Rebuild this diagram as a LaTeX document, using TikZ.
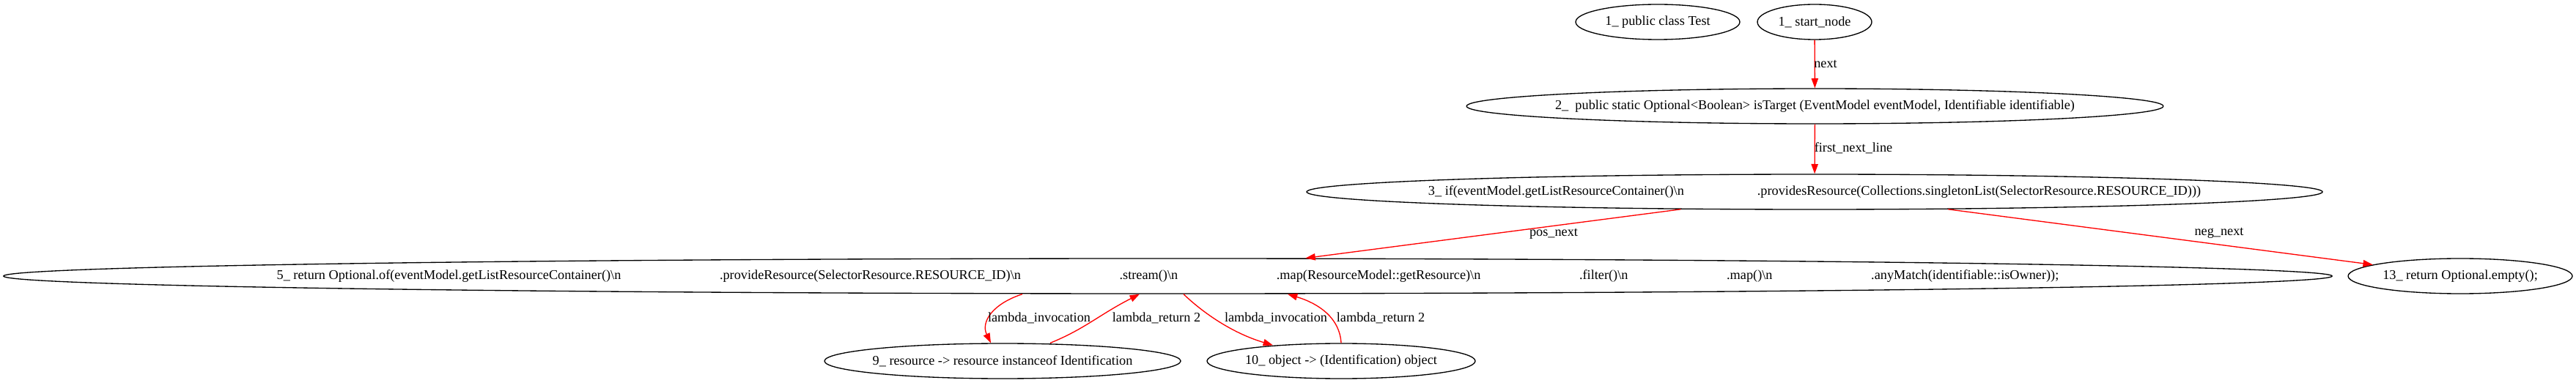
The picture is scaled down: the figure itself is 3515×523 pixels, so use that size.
\documentclass[tikz,border=0pt]{standalone}
\usepackage{fontspec}
\setmainfont{Liberation Serif}
\usepackage{xcolor}
\usepackage{tikz}
\usetikzlibrary{arrows.meta, shapes.geometric}
\definecolor{flowred}{RGB}{255,0,0}
\tikzset{
  stmt/.style={draw, ellipse, line width=1pt, minimum height=36pt, inner sep=0pt},
  flow/.style={draw=flowred, line width=1pt, -{Triangle[length=10pt, width=7pt]}},
}
\begin{document}
\begin{tikzpicture}[x=0.75pt, y=-0.75pt, font=\fontsize{13.7pt}{16pt}\selectfont]
\useasboundingbox (0,0) rectangle (3515,523);

% statements
\node (class_decl) [stmt, minimum width=168pt, label={center:{1\_ public class Test}}] at (2262,30) {};
\node (start_node) [stmt, minimum width=117pt, label={center:{1\_ start\_node}}] at (2476,30) {};
\node (method_decl) [stmt, minimum width=713pt, label={center:{2\_\ \ public static Optional<Boolean> isTarget (EventModel eventModel, Identifiable identifiable)}}] at (2476.5,145) {};
\node (if_cond) [stmt, minimum width=1039.5pt, label={center:{3\_ if(eventModel.getListResourceContainer()\textbackslash n\hspace{75pt}.providesResource(Collections.singletonList(SelectorResource.RESOURCE\_ID)))}}] at (2476,262) {};
\node (return_stream) [stmt, minimum width=2383pt, label={center:{5\_ return Optional.of(eventModel.getListResourceContainer()\textbackslash n\hspace{101pt}.provideResource(SelectorResource.RESOURCE\_ID)\textbackslash n\hspace{101pt}.stream()\textbackslash n\hspace{101pt}.map(ResourceModel::getResource)\textbackslash n\hspace{101pt}.filter()\textbackslash n\hspace{101pt}.map()\textbackslash n\hspace{101pt}.anyMatch(identifiable::isOwner));}}] at (1593.5,377) {};
\node (return_empty) [stmt, minimum width=229.5pt, label={center:{13\_ return Optional.empty();}}] at (3357,377) {};
\node (lambda_filter) [stmt, minimum width=364.5pt, label={center:{9\_ resource -> resource instanceof Identification}}] at (1368,493) {};
\node (lambda_map) [stmt, minimum width=274.5pt, label={center:{10\_ object -> (Identification) object}}] at (1830,493) {};

% control flow
\draw[flow] (start_node) -- (method_decl);
\node (lbl_next) at (2491,87) {next};
\draw[flow] (method_decl) -- (if_cond);
\node (lbl_first) at (2529,202) {first\_next\_line};
\draw[flow] (if_cond) -- (return_stream);
\node (lbl_pos) at (2120,319) {pos\_next};
\draw[flow] (if_cond) -- (return_empty);
\node (lbl_neg) at (3028,318) {neg\_next};

% lambdas
\draw[flow] ([xshift=-148.9pt]return_stream.south) .. controls +(-40,13) and +(-14,-29) .. ([xshift=-12pt]lambda_filter.north);
\node (lbl_inv_filter) at (1418,434) {lambda\_invocation};
\draw[flow] ([xshift=48.8pt]lambda_filter.north) .. controls +(47,-19) and +(-55,28) .. ([xshift=-28.9pt]return_stream.south);
\node (lbl_ret_filter) at (1578,434) {lambda\_return 2};
\draw[flow] ([xshift=16.1pt]return_stream.south) .. controls +(25,24) and +(-57,-17) .. ([xshift=-69.8pt, yshift=-2.3pt]lambda_map.north);
\node (lbl_inv_map) at (1741,434) {lambda\_invocation};
\draw[flow] (lambda_map.north) .. controls +(-2,-34) and +(43,13) .. ([xshift=122.6pt]return_stream.south);
\node (lbl_ret_map) at (1884,434) {lambda\_return 2};
\end{tikzpicture}
\end{document}
